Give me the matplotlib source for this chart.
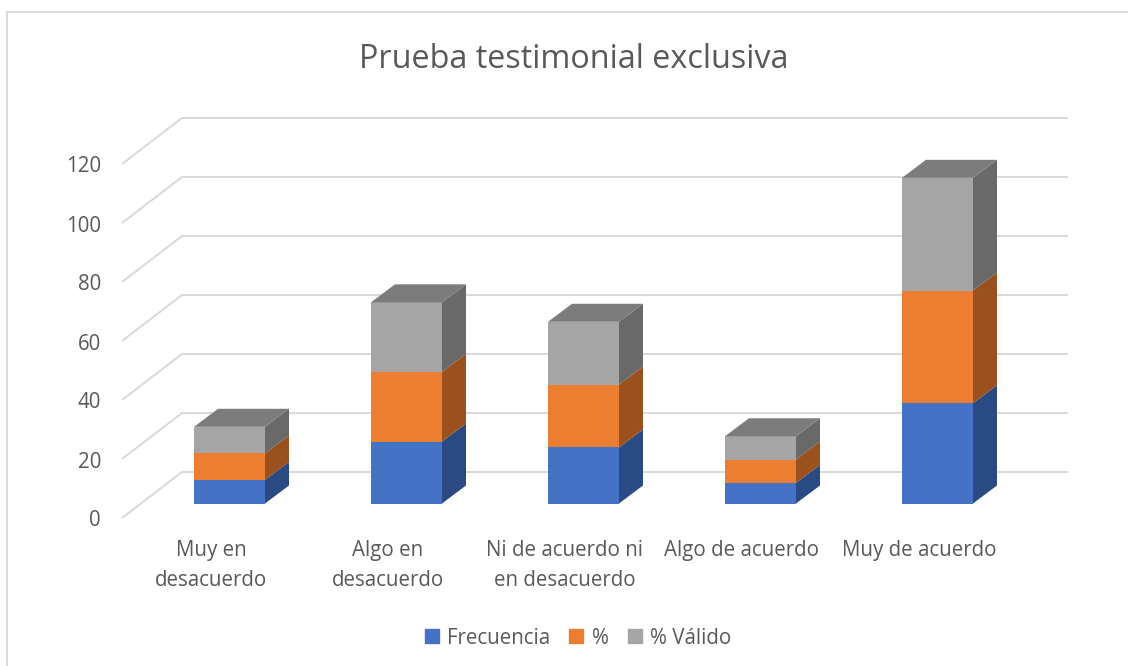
import matplotlib.pyplot as plt
from matplotlib.patches import Polygon, Rectangle

plt.rcParams['font.family'] = ['Open Sans', 'DejaVu Sans']

categories = ['Muy en\ndesacuerdo', 'Algo en\ndesacuerdo', 'Ni de acuerdo ni\nen desacuerdo',
              'Algo de acuerdo', 'Muy de acuerdo']
frecuencia = [8, 21, 19, 7, 34]
porcentaje = [9.0, 23.6, 21.3, 7.9, 38.2]
valido = [9.0, 23.6, 21.3, 7.9, 38.2]
series_names = ['Frecuencia', '%', '% Válido']
y_ticks = [0, 20, 40, 60, 80, 100, 120]

front_colors = ['#4472C4', '#ED7D31', '#A5A5A5']
side_colors = ['#294A82', '#9A511E', '#696969']
top_color = '#7C7C7C'
text_color = '#595959'
grid_color = '#D9D9D9'

# pixel layout of the picture: value 0 of the bar fronts sits at y=503.5
PX_CAT = 177.0
PX_VAL = 2.95
X0 = 229.5
Y0 = 503.5
W, H = 1128, 666

# depth of the bars and of the walls, in data units
BAR_W = 71 / PX_CAT
BAR_DX = 24 / PX_CAT
BAR_DY = 18 / PX_VAL
WALL_DX = 60 / PX_CAT
WALL_DY = 46 / PX_VAL

fig = plt.figure(figsize=(W / 100, H / 100), dpi=100)
ax = fig.add_axes([0, 0, 1, 1])
ax.set_xlim((0 - X0) / PX_CAT, (W - X0) / PX_CAT)
ax.set_ylim((Y0 - H) / PX_VAL, Y0 / PX_VAL)
ax.axis('off')

# outer chart frame, only left and top show in the picture
ax.plot([7 / W, 7 / W, 1], [0, 1 - 12 / H, 1 - 12 / H], transform=ax.transAxes,
        color=grid_color, lw=1.4, solid_joinstyle='miter')

# walls of the 3d box
wall_front_x = (122 - X0) / PX_CAT
wall_back_x = wall_front_x + WALL_DX
wall_right_x = (1068 - X0) / PX_CAT
front_y0 = (Y0 - 518) / PX_VAL
for t in y_ticks:
    y = front_y0 + t
    ax.plot([wall_front_x, wall_back_x, wall_right_x], [y, y + WALL_DY, y + WALL_DY],
            color=grid_color, lw=1.4, zorder=1, solid_capstyle='butt')
    ax.text((101 - X0) / PX_CAT, y - 3 / PX_VAL, str(t), ha='right', va='center',
            fontsize=14.8, color=text_color)

# stacked bars, with side and top faces
bottoms = [0] * len(categories)
handles = []
for values, name, col, side in zip([frecuencia, porcentaje, valido], series_names, front_colors, side_colors):
    bars = ax.bar(range(len(categories)), values, BAR_W, bottom=bottoms, color=col, label=name, zorder=3)
    handles.append(Rectangle((0, 0), 1, 1, color=col))
    for i, v in enumerate(values):
        r = i + BAR_W / 2
        b = bottoms[i]
        ax.add_patch(Polygon([(r, b), (r + BAR_DX, b + BAR_DY), (r + BAR_DX, b + v + BAR_DY), (r, b + v)],
                             closed=True, facecolor=side, edgecolor='none', zorder=3))
    bottoms = [b + v for b, v in zip(bottoms, values)]

for i, total in enumerate(bottoms):
    l = i - BAR_W / 2
    r = i + BAR_W / 2
    ax.add_patch(Polygon([(l, total), (r, total), (r + BAR_DX, total + BAR_DY), (l + BAR_DX, total + BAR_DY)],
                         closed=True, facecolor=top_color, edgecolor='none', zorder=3))

# category labels sit left of the bar centres, like on the front floor edge
for i, label in enumerate(categories):
    ax.text(i - 18.5 / PX_CAT, (Y0 - 540) / PX_VAL, label, ha='center', va='top',
            fontsize=14.8, color=text_color, linespacing=1.55)

ax.text(0.509, 1 - 60 / H, 'Prueba testimonial exclusiva', transform=ax.transAxes,
        ha='center', va='center', fontsize=23.3, color=text_color)

leg = ax.legend(handles, series_names, loc='center', bbox_to_anchor=(578 / W, 1 - 638 / H), ncol=3,
                frameon=False, fontsize=14.8, labelcolor=text_color,
                handlelength=0.68, handleheight=0.68, handletextpad=0.4, columnspacing=0.95)

fig.savefig('out.png', dpi=100)
plt.close()
